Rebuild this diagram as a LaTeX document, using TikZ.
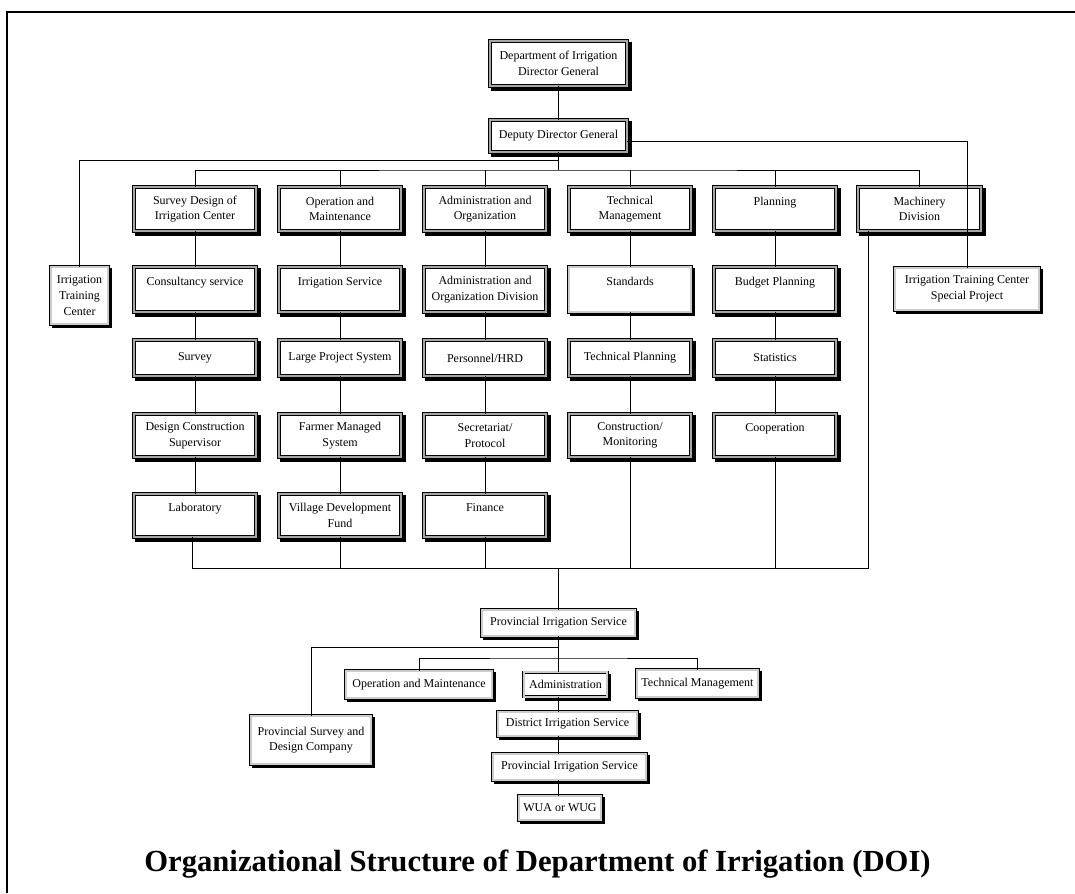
\documentclass[tikz,border=0pt]{standalone}
\usepackage{fontspec}
\setmainfont{Liberation Serif}
\usetikzlibrary{shadows,calc}
\tikzset{
  basebox/.style={draw=black, line width=0.4pt, fill=white, align=center, inner sep=1pt,
    font=\fontsize{9}{11.7}\selectfont},
  bx/.style={basebox, double=gray!70, double distance=1.9pt,
    general shadow={fill=black, draw=black, line width=2.7pt, shadow xshift=2.3pt, shadow yshift=-2.3pt}},
  lbx/.style={basebox, double=gray!40, double distance=1.4pt,
    general shadow={fill=black, draw=black, line width=2.2pt, shadow xshift=2.1pt, shadow yshift=-2.1pt}},
  ln/.style={line width=0.6pt, draw=black},
  titletext/.style={font=\fontsize{23}{27}\selectfont\bfseries}
}
\newcommand\bx[7][bx]{\node[#1, minimum width={0.75pt*(#5-3.6)}, minimum height={0.75pt*(#6-3.6)}] (#2) at (#3,#4) {#7};}
\begin{document}
\begin{tikzpicture}[x=0.75pt,y=-0.75pt]
\useasboundingbox (0,0) rectangle (1075,893);
% frame
\draw[line width=0.9pt] (7,893) -- (7,12) -- (1075,12);

% top
\bx{dg}{558.5}{63.5}{141}{49}{Department of Irrigation\\Director General}
\bx{ddg}{558.5}{136}{141}{36}{Deputy Director General}

% row 1
\bx{a1}{195}{209}{126}{48}{Survey Design of\\Irrigation Center}
\bx{a2}{340}{209}{126}{48}{Operation and\\Maintenance}
\bx{a3}{485}{209}{126}{48}{Administration and\\Organization}
\bx{a4}{630}{209}{126}{48}{Technical\\Management}
\bx{a5}{775}{209}{126}{48}{Planning\\~}
\bx{mach}{919.5}{209}{127}{48}{Machinery\\Division}

\bx[lbx]{itc}{79.5}{295.5}{61}{61}{Irrigation\\Training\\Center}
\bx[lbx]{itcsp}{967}{289}{148}{46}{Irrigation Training Center\\Special Project}

% row 2
\bx{b1}{195}{289.5}{126}{49}{Consultancy service\\~}
\bx{b2}{340}{289.5}{126}{49}{Irrigation Service\\~}
\bx{b3}{485}{289.5}{126}{49}{Administration and\\Organization Division}
\bx[lbx]{b4}{630}{289.5}{126}{49}{Standards\\~}
\bx{b5}{775}{289.5}{126}{49}{Budget Planning\\~}

% row 3
\bx{c1}{195}{358}{126}{40}{Survey}
\bx{c2}{340}{358}{126}{40}{Large Project System}
\bx{c3}{485}{358}{126}{40}{Personnel/HRD}
\bx{c4}{630}{358}{126}{40}{Technical Planning}
\bx{c5}{775}{358}{126}{40}{Statistics}

% row 4
\bx{d1}{195}{435.5}{126}{47}{Design Construction\\Supervisor}
\bx{d2}{340}{435.5}{126}{47}{Farmer Managed\\System}
\bx{d3}{485}{435.5}{126}{47}{Secretariat/\\Protocol}
\bx{d4}{630}{435.5}{126}{47}{Construction/\\Monitoring}
\bx{d5}{775}{435.5}{126}{47}{Cooperation\\~}

% row 5
\bx{e1}{195}{515.5}{126}{47}{Laboratory\\~}
\bx{e2}{340}{515.5}{126}{47}{Village Development\\Fund}
\bx{e3}{485}{515.5}{126}{47}{Finance\\~}

% lower part
\bx[lbx]{pis}{558.5}{623}{157}{30}{Provincial Irrigation Service}
\bx[lbx]{om}{419}{684.5}{150}{31}{Operation and Maintenance}
\bx[lbx]{adm}{565.5}{684.5}{87}{28}{Administration}
\bx[lbx]{tm}{697.5}{683.5}{125}{31}{Technical Management}
\bx[lbx]{psd}{311}{740}{124}{52}{Provincial Survey and\\Design Company}
\bx[lbx]{dis}{567.5}{724}{143}{28}{District Irrigation Service}
\bx[lbx]{pis2}{569.5}{767}{157}{30}{Provincial Irrigation Service}
\bx[lbx]{wua}{560}{808}{86}{28}{WUA or WUG}

\node[titletext] (title) at (537.5,864) {Organizational Structure of Department of Irrigation (DOI)};

% connector junctions
\coordinate (ub) at (558.5,160);
\coordinate (lb) at (558.5,170);
\coordinate (bb) at (558.5,568);
\coordinate (pb1) at (558.5,647);
\coordinate (pb2) at (558.5,658);

\draw[ln] (dg.south) -- (ddg.north);
\draw[ln] (ddg.south) -- (lb);
\draw[ln] (ub) -| (itc.north);
\draw[ln] (a1.north) |- (lb) -| (mach.north);
\foreach \n in {a2,a3,a4,a5} {\draw[ln] (\n.north) -- (\n.north |- lb);}
\draw[ln] ($(ddg.east)+(0,5)$) -| (itcsp.north);
% columns
\foreach \u/\v in {a1/b1,b1/c1,c1/d1,d1/e1,a2/b2,b2/c2,c2/d2,d2/e2,a3/b3,b3/c3,c3/d3,d3/e3,a4/b4,b4/c4,c4/d4,a5/b5,b5/c5,c5/d5}
  {\draw[ln] (\u.south) -- (\v.north);}
% bottom bus
\draw[ln] ($(e1.south)+(-3,0)$) |- (bb);
\draw[ln] ($(mach.south)+(-51,0)$) |- (bb);
\foreach \n in {e2,e3,d4,d5} {\draw[ln] (\n.south) -- (\n.south |- bb);}
\draw[ln] (bb) -- (pis.north);
% lower
\draw[ln] (pis.south) -- (pis.south |- adm.north);
\draw[ln] (pb1) -| (psd.north);
\draw[ln] (om.north) |- (pb2) -| (tm.north);
\draw[ln] (pis.south |- adm.south) -- (pis.south |- dis.north);
\draw[ln] (pis.south |- dis.south) -- (pis.south |- pis2.north);
\draw[ln] (pis.south |- pis2.south) -- (pis.south |- wua.north);
\end{tikzpicture}
\end{document}
